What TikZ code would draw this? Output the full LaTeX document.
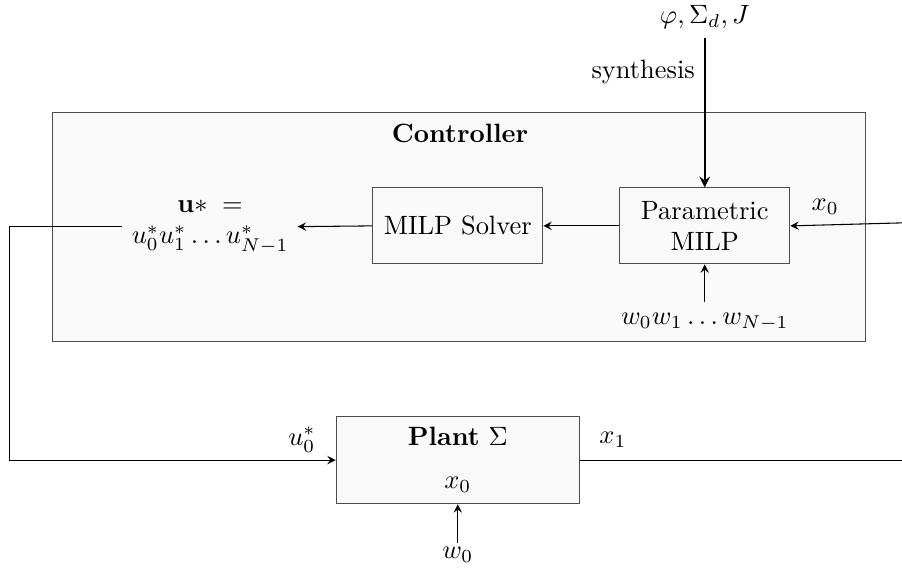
\documentclass[tikz,border=0pt]{standalone}
\usetikzlibrary{arrows}
\tikzset{
	block/.style={draw=black!70, fill=black!2, minimum width=2.26cm, minimum height=1.01cm, align=center},
	signal/.style={->, >=stealth}
}
\begin{document}
\begin{tikzpicture}
			\useasboundingbox (0,0) rectangle (11.98,-7.58);
			\draw[draw=black!70, fill=black!2] (0.70,-1.49) rectangle (11.49,-4.53);
			\node[font=\bfseries] (ctrl) at (6.11,-1.77) {Controller};
			\node[block] (param) at (9.36,-3.00) {Parametric\\MILP};
			\node[block] (solver) at (6.08,-3.00) {MILP Solver};
			\node[align=center] (useq) at (2.79,-3.01) {$\mathbf{u}* \;=$\\$u_0^*u_1^*\dots u_{N-1}^*$};
			\node[block, minimum width=3.23cm, minimum height=1.16cm] (plant) at (6.08,-6.11) {};
			\node (plantlbl) at (6.08,-5.80) {\textbf{Plant} $\Sigma$};
			\node (plantx) at (6.08,-6.44) {$x_0$};
			\node (spec) at (9.36,-0.23) {$\varphi, \Sigma_d, J$};
			\coordinate (spectop) at (9.36,-0.50);
			\coordinate (xin) at (11.98,-2.96);
			\node (xzero) at (10.96,-2.75) {$x_0$};
			\node (wseq) at (9.36,-4.27) {$w_0w_1\dots w_{N-1}$};
			\coordinate (wseqtop) at (9.36,-4.01);
			\coordinate (corner) at (0.13,-3.01);
			\node (uzero) at (4.01,-5.84) {$u_0^*$};
			\node (xone) at (8.14,-5.84) {$x_1$};
			\coordinate (xout) at (11.98,-6.11);
			\node (wzero) at (6.08,-7.37) {$w_0$};
			\coordinate (wzerotop) at (6.08,-7.21);
			% arrows
			\draw[signal, thick] (spectop) -- node[pos=0.23, left] {synthesis} (param.north);
			\draw[signal] (xin) -- (param.east);
			\draw[signal] (wseqtop) -- (param.south);
			\draw[signal] (param.west) -- (solver.east);
			\draw[signal] (solver.west) -- (useq.east);
			\draw[signal] (useq.west) -- (corner) |- (plant.west);
			\draw (plant.east) -- (xout);
			\draw[signal] (wzerotop) -- (plant.south);
		\end{tikzpicture}
\end{document}
